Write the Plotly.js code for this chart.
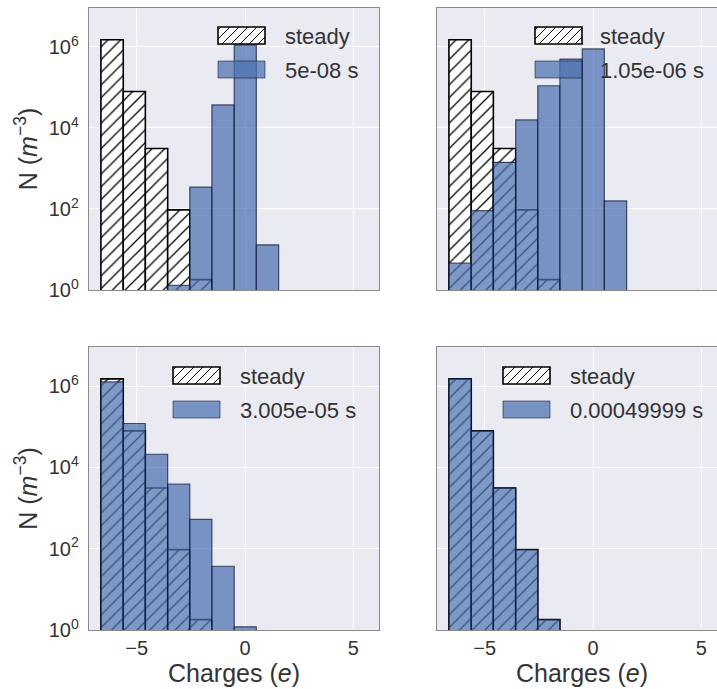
<!DOCTYPE html>
<html><head><meta charset="utf-8">
<script src="https://cdn.plot.ly/plotly-3.0.1.min.js"></script>
<style>html,body{margin:0;padding:0;overflow:hidden;background:#fff}</style>
</head><body><div id="chart"></div>
<script>
// ---- data ----
const binEdges = [-6.65, -5.62, -4.60, -3.57, -2.55, -1.53, -0.50, 0.52, 1.55];
const steady = [1.5e6, 7.9e4, 3.1e3, 95, 1.8, 0, 0, 0];
const t5e08 = [0, 0, 0, 1.3, 345, 3.7e4, 1.12e6, 13];
const t105e06 = [4.6, 91, 1.42e3, 1.58e4, 1.1e5, 5.0e5, 8.9e5, 158];
const t3005e05 = [1.26e6, 1.2e5, 2.1e4, 3.9e3, 525, 37, 1.2, 0];
const t49999e04 = [1.5e6, 7.9e4, 3.1e3, 95, 1.8, 0, 0, 0];
const seriesLabels = ['5e-08 s', '1.05e-06 s', '3.005e-05 s', '0.00049999 s'];
const steadyLabel = 'steady';
const xTickVals = [-5, 0, 5];
const yTickVals = [1, 100, 1e4, 1e6];
const yTickText = ['10<sup>0</sup>', '10<sup>2</sup>', '10<sup>4</sup>', '10<sup>6</sup>'];
const xTitle = 'Charges (<i>e</i>)';
const yTitle = 'N (<i>m</i><sup>−3</sup>)';

// ---- layout geometry (pixels) ----
const W = 740, H = 689;
const colPx = [[89, 379], [437, 727]];
const rowPx = [[8, 290], [347, 630]];
const px = v => v / W;
const py = v => 1 - v / H;

const centers = binEdges.slice(0, -1).map((e, k) => (e + binEdges[k + 1]) / 2);
const widths = binEdges.slice(0, -1).map((e, k) => binEdges[k + 1] - e);
const clean = arr => arr.map(v => (v > 0 ? v : null));

const series = [t5e08, t105e06, t3005e05, t49999e04];
const traces = [];
const layout = {
  width: W, height: H,
  margin: {l: 0, r: 0, t: 0, b: 0},
  paper_bgcolor: '#ffffff',
  plot_bgcolor: '#EAEAF2',
  barmode: 'overlay', bargap: 0,
  showlegend: false,
  font: {family: 'Liberation Sans, Arial, sans-serif', color: '#333333'},
  shapes: [], annotations: []
};

const legendPos = [
  {x: 218, y: 27, tx: 283},
  {x: 535, y: 27, tx: 598},
  {x: 173, y: 367, tx: 238},
  {x: 503, y: 367, tx: 568}
];

function hatchPath(x0, y0, x1, y1, step) {
  let d = '';
  for (let c = x0 + y0 + 3; c < x1 + y1; c += step) {
    const xa = Math.max(x0, c - y1), xb = Math.min(x1, c - y0);
    if (xb - xa < 0.5) continue;
    d += `M${px(xa)},${py(c - xa)}L${px(xb)},${py(c - xb)}`;
  }
  return d;
}

for (let i = 0; i < 4; i++) {
  const r = Math.floor(i / 2), c = i % 2;
  const sfx = i === 0 ? '' : String(i + 1);
  const xa = 'x' + sfx, ya = 'y' + sfx;
  traces.push({
    type: 'bar', x: centers, y: clean(steady), width: widths,
    xaxis: xa, yaxis: ya, name: steadyLabel, hoverinfo: 'skip',
    marker: {color: '#ffffff', line: {color: '#000000', width: 1.6},
      pattern: {shape: '/', fgcolor: '#000000', bgcolor: '#ffffff', size: 9, solidity: 0.14}}
  });
  traces.push({
    type: 'bar', x: centers, y: clean(series[i]), width: widths,
    xaxis: xa, yaxis: ya, name: seriesLabels[i], hoverinfo: 'skip',
    marker: {color: 'rgba(76,114,176,0.72)', line: {color: 'rgba(10,20,50,0.7)', width: 1.2}}
  });
  const common = {
    showgrid: true, gridcolor: '#ffffff', gridwidth: 1, zeroline: false,
    showline: true, mirror: true, linecolor: '#8a8a8a', linewidth: 1.3,
    ticks: '', tickfont: {size: 20, color: '#333333'}
  };
  layout['xaxis' + sfx] = Object.assign({}, common, {
    domain: [px(colPx[c][0]), px(colPx[c][1])],
    anchor: ya, range: [-7.2, 6.18], tickmode: 'array', tickvals: xTickVals,
    showticklabels: r === 1,
    title: r === 1 ? {text: xTitle, font: {size: 25, color: '#333333'}, standoff: 2} : undefined
  });
  layout['yaxis' + sfx] = Object.assign({}, common, {
    domain: [py(rowPx[r][1]), py(rowPx[r][0])],
    anchor: xa, type: 'log', range: [0, 6.96], tickmode: 'array',
    tickvals: yTickVals, ticktext: yTickText, showticklabels: c === 0,
    ticklabelstandoff: 5,
    title: c === 0 ? {text: yTitle, font: {size: 25, color: '#333333'}, standoff: 4} : undefined
  });

  // legend (drawn manually)
  const L = legendPos[i];
  const pw = 47, ph = 17, gap = 34;
  layout.shapes.push({type: 'rect', xref: 'paper', yref: 'paper', layer: 'above',
    x0: px(L.x), x1: px(L.x + pw), y0: py(L.y + ph), y1: py(L.y),
    fillcolor: '#ffffff', line: {color: '#000000', width: 1.6}});
  layout.shapes.push({type: 'path', xref: 'paper', yref: 'paper', layer: 'above',
    path: hatchPath(L.x, L.y, L.x + pw, L.y + ph, 9), line: {color: '#000000', width: 1}});
  layout.shapes.push({type: 'rect', xref: 'paper', yref: 'paper', layer: 'above',
    x0: px(L.x), x1: px(L.x + pw), y0: py(L.y + gap + ph), y1: py(L.y + gap),
    fillcolor: 'rgba(76,114,176,0.72)', line: {color: 'rgba(10,20,50,0.55)', width: 1}});
  layout.annotations.push({xref: 'paper', yref: 'paper', x: px(L.tx), y: py(L.y + ph / 2 + 1),
    xanchor: 'left', yanchor: 'middle', showarrow: false, text: steadyLabel,
    font: {size: 22, color: '#333333'}});
  layout.annotations.push({xref: 'paper', yref: 'paper', x: px(L.tx), y: py(L.y + gap + ph / 2 + 1),
    xanchor: 'left', yanchor: 'middle', showarrow: false, text: seriesLabels[i],
    font: {size: 22, color: '#333333'}});
}

Plotly.newPlot('chart', traces, layout, {staticPlot: true, displayModeBar: false});
</script>
</body></html>
